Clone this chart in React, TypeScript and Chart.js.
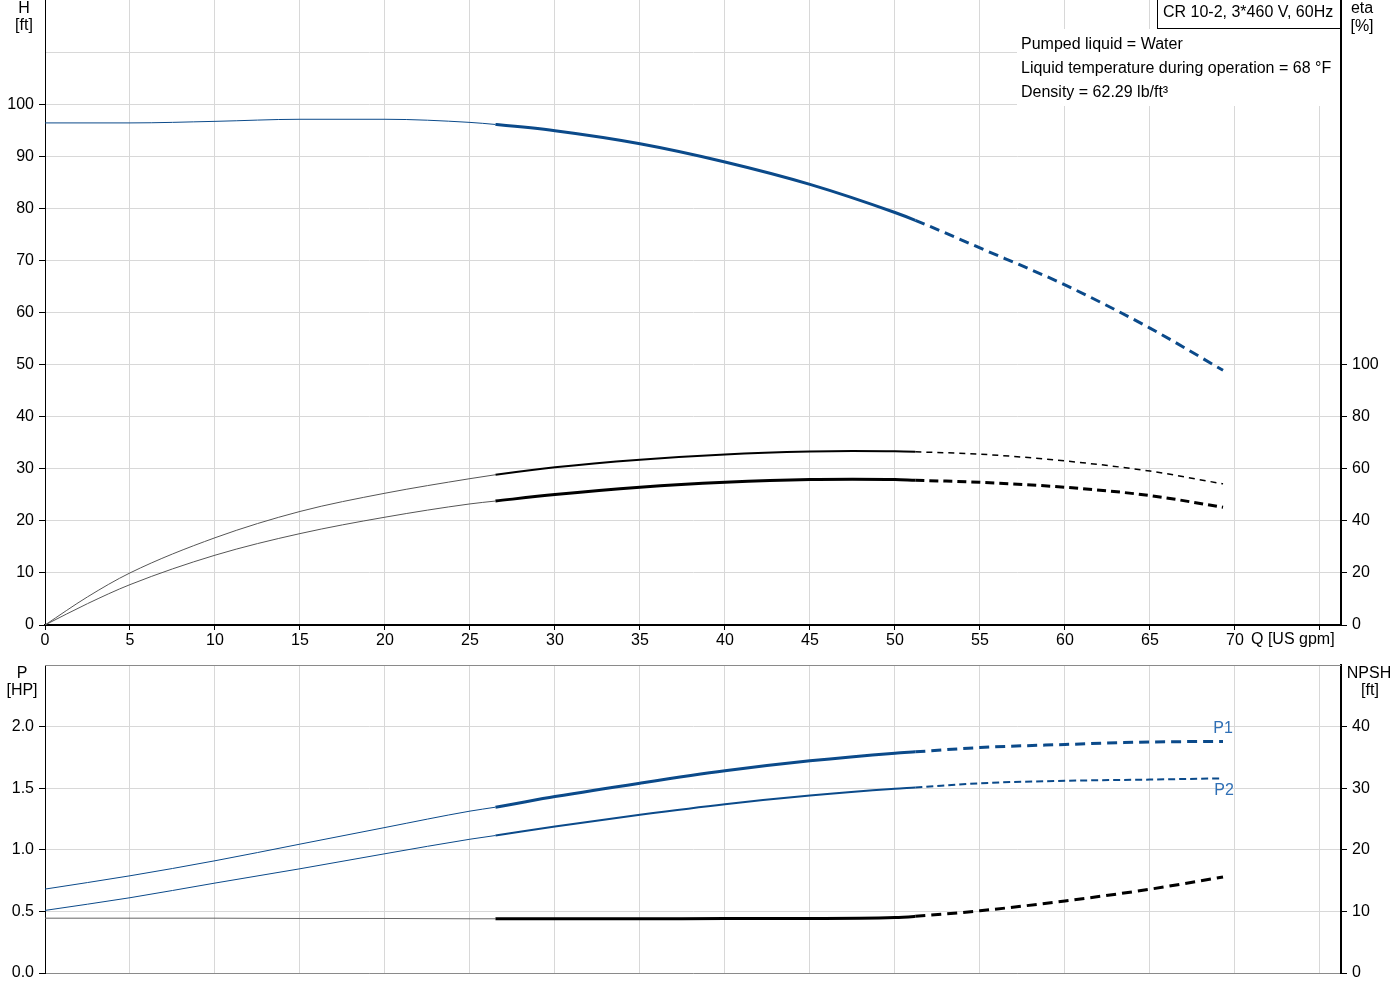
import React, { useEffect, useRef } from 'react';
import { Chart, registerables } from 'chart.js';

Chart.register(...registerables);

// ---------- data ----------
const flowQ = [0, 5, 10, 15, 20, 25, 26.5, 30, 35, 40, 45, 50, 51.2, 55, 60, 65, 69.3];
const headH = [96.4, 96.4, 96.7, 97.1, 97.1, 96.5, 96.1, 94.9, 92.4, 88.9, 84.6, 79.2, 77.7, 72.4, 65.3, 57.0, 48.9];

const etaQ = [0, 2.5, 5, 10, 15, 20, 25, 26.5, 30, 35, 40, 45, 47.5, 50, 51.2, 55, 60, 65, 69.3];
const etaUpper = [0, 10.8, 20, 33.5, 43.6, 50.6, 56.2, 57.7, 60.6, 63.5, 65.5, 66.6, 66.8, 66.7, 66.5, 65.6, 63.0, 59.1, 54.2];
const etaLower = [0, 8.2, 15.5, 26.8, 35.1, 41.4, 46.5, 47.6, 50.1, 52.9, 54.8, 55.9, 56.0, 55.9, 55.6, 54.8, 52.9, 49.7, 45.2];

const powerP1 = [0.681, 0.789, 0.911, 1.046, 1.181, 1.314, 1.346, 1.432, 1.541, 1.641, 1.722, 1.784, 1.795, 1.83, 1.855, 1.875, 1.88];
const powerP2 = [0.508, 0.611, 0.73, 0.846, 0.968, 1.086, 1.116, 1.189, 1.284, 1.37, 1.44, 1.495, 1.505, 1.54, 1.56, 1.57, 1.58];
const npshFt = [8.9, 8.9, 8.9, 8.85, 8.85, 8.8, 8.8, 8.8, 8.8, 8.85, 8.85, 9.0, 9.2, 10.1, 11.7, 13.6, 15.6];

const infoTitle = 'CR 10-2, 3*460 V, 60Hz';
const infoLines = ['Pumped liquid = Water', 'Liquid temperature during operation = 68 °F', 'Density = 62.29 lb/ft³'];
const xAxisTitle = 'Q [US gpm]';

const Q_MAX = 76.24;
const Q_SOLID_START = 26.5;
const Q_DASH_START = 51.2;

// ---------- styles ----------
const FONT = "'Liberation Sans', Arial, sans-serif";
const BLUE = '#0b4a8a';
const LABEL_BLUE = '#2f6fb5';
const GRID = '#d8d8d8';
const CLEAR = 'rgba(0,0,0,0)';

const pts = (xs: number[], ys: number[]) => xs.map((x, i) => ({ x, y: ys[i] }));

const zone = (ctx: any) => {
  const x = ctx.p0.parsed.x;
  if (x >= Q_DASH_START - 1e-6) return 2;
  if (x >= Q_SOLID_START - 1e-6) return 1;
  return 0;
};

function curve(label: string, data: any[], yAxisID: string, color: string, thinColor: string, widths: number[], dash: number[]) {
  return {
    label,
    data,
    yAxisID,
    borderColor: color,
    borderWidth: widths[1],
    pointRadius: 0,
    fill: false,
    cubicInterpolationMode: 'monotone' as const,
    borderCapStyle: 'butt' as const,
    segment: {
      borderColor: (ctx: any) => (zone(ctx) === 0 ? thinColor : color),
      borderWidth: (ctx: any) => widths[zone(ctx)],
      borderDash: (ctx: any) => (zone(ctx) === 2 ? dash : []),
    },
  };
}

const tickFont = { family: FONT, size: 16 };

function fixY(width: number) {
  return (s: any) => {
    s.width = width;
    s.paddingTop = 0;
    s.paddingBottom = 0;
  };
}
function fixX(height: number) {
  return (s: any) => {
    s.height = height;
    s.paddingLeft = 0;
    s.paddingRight = 0;
  };
}

export default function App() {
  const topRef = useRef<HTMLCanvasElement>(null);
  const botRef = useRef<HTMLCanvasElement>(null);

  useEffect(() => {
    const topPlugin = {
      id: 'topDecor',
      afterDraw(chart: any) {
        const c = chart.ctx;
        c.save();
        // white panel behind info text
        c.fillStyle = '#fff';
        c.fillRect(1017, 29, 323, 77);
        // info title box
        c.fillRect(1157, 0, 183, 29);
        c.strokeStyle = '#000';
        c.lineWidth = 1;
        c.strokeRect(1157.5, -1, 183, 29.5);
        c.fillStyle = '#000';
        c.font = `16px ${FONT}`;
        c.textBaseline = 'middle';
        c.textAlign = 'left';
        c.fillText(infoTitle, 1163, 13);
        infoLines.forEach((t, i) => c.fillText(t, 1021, 45 + i * 24));
        // axis titles
        c.textAlign = 'center';
        c.fillText('H', 24, 9);
        c.fillText('[ft]', 24, 26);
        c.fillText('eta', 1362, 9);
        c.fillText('[%]', 1362, 27);
        c.textAlign = 'left';
        c.fillText(xAxisTitle, 1251, 640);
        c.restore();
      },
    };

    const botPlugin = {
      id: 'botDecor',
      afterDraw(chart: any) {
        const c = chart.ctx;
        const a = chart.chartArea;
        c.save();
        c.strokeStyle = '#8a8a8a';
        c.lineWidth = 1;
        c.beginPath();
        c.moveTo(a.left, a.top + 0.5);
        c.lineTo(a.right, a.top + 0.5);
        c.stroke();
        c.font = `16px ${FONT}`;
        c.textBaseline = 'middle';
        c.textAlign = 'center';
        c.fillStyle = '#000';
        c.fillText('P', 22, 14);
        c.fillText('[HP]', 22, 31);
        c.fillText('NPSH', 1369, 14);
        c.fillText('[ft]', 1370, 31);
        c.fillStyle = LABEL_BLUE;
        const m1 = chart.getDatasetMeta(0).data;
        const m2 = chart.getDatasetMeta(1).data;
        const e1 = m1[m1.length - 1];
        const e2 = m2[m2.length - 1];
        c.fillText('P1', e1.x + 0, e1.y - 13);
        c.fillText('P2', e2.x + 1, e2.y + 12);
        c.restore();
      },
    };

    const top = new Chart(topRef.current!, {
      type: 'line',
      data: {
        datasets: [
          curve('H', pts(flowQ, headH), 'y', BLUE, BLUE, [1, 3, 3], [10, 6]),
          curve('eta1', pts(etaQ, etaUpper), 'y2', '#000', '#555', [1, 2, 1.5], [6, 5]),
          curve('eta2', pts(etaQ, etaLower), 'y2', '#000', '#555', [1, 3, 3], [9, 5]),
        ] as any,
      },
      options: {
        animation: false,
        responsive: false,
        devicePixelRatio: 1,
        layout: { padding: 0 },
        plugins: { legend: { display: false }, tooltip: { enabled: false } },
        scales: {
          x: {
            type: 'linear',
            min: 0,
            max: Q_MAX,
            afterFit: fixX(35),
            ticks: {
              stepSize: 5,
              includeBounds: false,
              autoSkip: false,
              maxRotation: 0,
              padding: 1,
              font: tickFont,
              color: '#000',
              callback: (v: any) => (v <= 70 ? String(v) : ''),
            },
            grid: { color: GRID, tickColor: '#000', tickLength: 5, lineWidth: 1 },
            border: { color: '#000', width: 2 },
          },
          y: {
            type: 'linear',
            position: 'left',
            min: 0,
            max: 120,
            afterFit: fixY(45),
            ticks: {
              stepSize: 10,
              padding: 5,
              font: tickFont,
              color: '#000',
              callback: (v: any) => (v <= 100 ? String(v) : ''),
            },
            grid: {
              color: (ctx: any) => (ctx.tick && ctx.tick.value >= 120 ? CLEAR : GRID),
              tickColor: (ctx: any) => (ctx.tick && ctx.tick.value <= 100 ? '#000' : CLEAR),
              tickLength: 6,
            },
            border: { color: '#000', width: 1 },
          },
          y2: {
            type: 'linear',
            position: 'right',
            min: 0,
            max: 240,
            afterFit: fixY(59),
            ticks: {
              stepSize: 20,
              padding: 5,
              font: tickFont,
              color: '#000',
              callback: (v: any) => (v <= 100 ? String(v) : ''),
            },
            grid: {
              drawOnChartArea: false,
              tickColor: (ctx: any) => (ctx.tick && ctx.tick.value <= 100 ? '#000' : CLEAR),
              tickLength: 6,
            },
            border: { color: '#000', width: 2 },
          },
        },
      } as any,
      plugins: [topPlugin],
    });

    const bot = new Chart(botRef.current!, {
      type: 'line',
      data: {
        datasets: [
          curve('P1', pts(flowQ, powerP1), 'y', BLUE, BLUE, [1, 3, 3], [10, 6]),
          curve('P2', pts(flowQ, powerP2), 'y', BLUE, BLUE, [1, 2, 2], [7, 4]),
          curve('NPSH', pts(flowQ, npshFt), 'y2', '#000', '#666', [1, 3, 3], [10, 6]),
        ] as any,
      },
      options: {
        animation: false,
        responsive: false,
        devicePixelRatio: 1,
        layout: { padding: { top: 5, left: 0, right: 0, bottom: 0 } },
        plugins: { legend: { display: false }, tooltip: { enabled: false } },
        scales: {
          x: {
            type: 'linear',
            min: 0,
            max: Q_MAX,
            afterFit: fixX(27),
            ticks: {
              stepSize: 5,
              includeBounds: false,
              autoSkip: false,
              font: tickFont,
              color: CLEAR,
              callback: () => '',
            },
            grid: { color: GRID, drawTicks: false },
            border: { color: '#8a8a8a', width: 1 },
          },
          y: {
            type: 'linear',
            position: 'left',
            min: 0,
            max: 2.5,
            afterFit: fixY(45),
            ticks: {
              stepSize: 0.5,
              padding: 5,
              font: tickFont,
              color: '#000',
              callback: (v: any) => (v <= 2 ? Number(v).toFixed(1) : ''),
            },
            grid: {
              color: (ctx: any) => (ctx.tick && ctx.tick.value >= 2.5 ? CLEAR : GRID),
              tickColor: (ctx: any) => (ctx.tick && ctx.tick.value <= 2 ? '#000' : CLEAR),
              tickLength: 6,
            },
            border: { color: '#000', width: 1 },
          },
          y2: {
            type: 'linear',
            position: 'right',
            min: 0,
            max: 50,
            afterFit: fixY(59),
            ticks: {
              stepSize: 10,
              padding: 5,
              font: tickFont,
              color: '#000',
              callback: (v: any) => (v <= 40 ? String(v) : ''),
            },
            grid: {
              drawOnChartArea: false,
              tickColor: (ctx: any) => (ctx.tick && ctx.tick.value <= 40 ? '#000' : CLEAR),
              tickLength: 6,
            },
            border: { color: '#000', width: 2 },
          },
        },
      } as any,
      plugins: [botPlugin],
    });

    return () => {
      top.destroy();
      bot.destroy();
    };
  }, []);

  return (
    <div style={{ position: 'absolute', left: 0, top: 0, width: 1400, height: 1000, background: '#fff', overflow: 'hidden' }}>
      <canvas ref={topRef} width={1400} height={660} style={{ position: 'absolute', left: 0, top: 0, width: 1400, height: 660 }} />
      <canvas ref={botRef} width={1400} height={340} style={{ position: 'absolute', left: 0, top: 660, width: 1400, height: 340 }} />
    </div>
  );
}
